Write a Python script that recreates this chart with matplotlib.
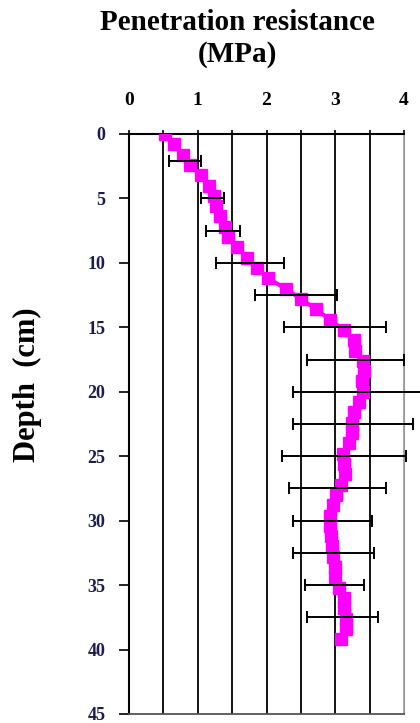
import numpy as np
import matplotlib.pyplot as plt

# mean penetration resistance (MPa)
depth = [0.0, 0.8, 1.6, 2.4, 3.2, 4.0, 4.8, 5.6, 6.4, 7.2,
         8.0, 8.8, 9.6, 10.4, 11.2, 12.0, 12.8, 13.6, 14.4, 15.2,
         16.0, 16.8, 17.6, 18.4, 19.2, 20.0, 20.8, 21.6, 22.4, 23.2,
         24.0, 24.8, 25.6, 26.4, 27.2, 28.0, 28.8, 29.6, 30.4, 31.2,
         32.0, 32.8, 33.6, 34.4, 35.2, 36.0, 36.8, 37.6, 38.4, 39.2]
resist = [0.53, 0.66, 0.78, 0.88, 1.05, 1.16, 1.24, 1.27, 1.33, 1.40,
          1.44, 1.57, 1.72, 1.86, 2.02, 2.28, 2.50, 2.72, 2.92, 3.12,
          3.27, 3.29, 3.40, 3.42, 3.39, 3.41, 3.35, 3.27, 3.24, 3.24,
          3.20, 3.11, 3.13, 3.14, 3.08, 3.01, 2.96, 2.92, 2.92, 2.94,
          2.95, 2.97, 3.00, 3.00, 3.05, 3.12, 3.12, 3.16, 3.15, 3.09]

# error bars (mean +/- sd)
eb_depth = [2.1, 5, 7.5, 10, 12.5, 15, 17.5, 20, 22.5, 25, 27.5, 30, 32.5, 35, 37.5]
eb_mean = [0.81, 1.215, 1.365, 1.76, 2.425, 3.0, 3.295, 3.33, 3.255, 3.13,
           3.035, 2.96, 2.97, 2.99, 3.105]
eb_sd = [0.23, 0.165, 0.245, 0.50, 0.595, 0.74, 0.705, 0.95, 0.875, 0.90,
         0.705, 0.58, 0.59, 0.43, 0.515]

x_ticks = [0, 1, 2, 3, 4]
y_ticks = [0, 5, 10, 15, 20, 25, 30, 35, 40, 45]
grid_x = [0.5, 1, 1.5, 2, 2.5, 3, 3.5]

serif = 'Liberation Serif'

fig = plt.figure(figsize=(4.2, 7.23), dpi=100)
ax = fig.add_axes([129/420, 1 - 714/723, 275/420, 580/723])

for gx in grid_x:
    ax.axvline(gx, color='black', lw=1.3, zorder=1)
ax.axvline(4, color='#999999', lw=1.2, zorder=1)

ax.plot(resist, depth, color='#ff00ff', marker='s', markersize=8.5,
        lw=3, zorder=3)
ax.errorbar(eb_mean, eb_depth, xerr=eb_sd, fmt='none', ecolor='black',
            elinewidth=1.4, capsize=4, capthick=1.4, zorder=4, clip_on=False)

ax.set_xlim(0, 4)
ax.set_ylim(45, 0)
ax.xaxis.tick_top()
ax.set_xticks(x_ticks)
ax.set_xticks(grid_x, minor=True)
ax.set_yticks(y_ticks)
ax.tick_params(axis='x', which='both', length=3, width=1.2, pad=15,
               labelsize=14)
ax.tick_params(axis='y', length=7, width=1.2, pad=10, labelsize=13,
               labelcolor='#1c1c50')
for lab in ax.get_xticklabels() + ax.get_yticklabels():
    lab.set_fontfamily(serif)
    lab.set_fontweight('bold')

ax.spines['left'].set_linewidth(1.5)
ax.spines['top'].set_linewidth(1.5)
ax.spines['right'].set_color('#999999')
ax.spines['bottom'].set_color('#555555')
ax.spines['bottom'].set_linewidth(1.3)

fig.text(237/420, 1 - 22/723, 'Penetration resistance', ha='center',
         va='center', fontsize=21, fontweight='bold', family=serif)
fig.text(237/420, 1 - 54/723, '(MPa)', ha='center', va='center',
         fontsize=21, fontweight='bold', family=serif)
fig.text(27/420, 1 - 385/723, 'Depth  (cm)', rotation=90, ha='center',
         va='center', fontsize=22, fontweight='bold', family=serif)

fig.savefig('out.png', dpi=100)
